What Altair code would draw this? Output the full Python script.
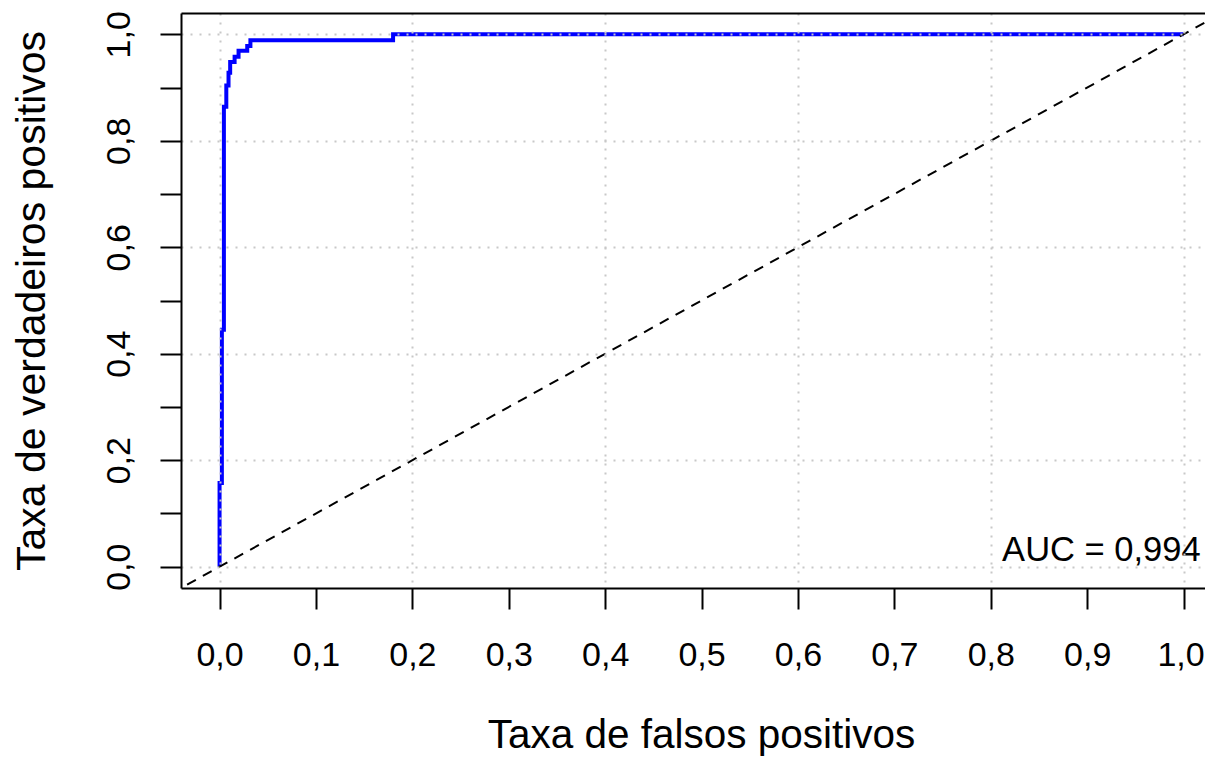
import altair as alt
import pandas as pd

# ROC curve vertices (false positive rate, true positive rate)
fpr = [0.0, 0.0024, 0.0045, 0.0070, 0.0093, 0.0110, 0.0156, 0.0197, 0.0287, 0.0320, 0.1800, 1.0]
tpr = [0.0, 0.157, 0.445, 0.864, 0.904, 0.928, 0.948, 0.958, 0.969, 0.978, 0.989, 1.0]

# chance diagonal (y = x), spanning the whole plot region
ref_x = [-0.05, 1.05]

tick_values = [0.0, 0.1, 0.2, 0.3, 0.4, 0.5, 0.6, 0.7, 0.8, 0.9, 1.0]

auc_text = ["AUC = 0,994"]
auc_x = [1.0177]
auc_y = [0.011]

x_title = "Taxa de falsos positivos"
y_title = "Taxa de verdadeiros positivos"

FONT = "Liberation Sans"
W, H = 1024, 575
X_DOMAIN = [-0.04, -0.04 + W / 964]
Y_DOMAIN = [-0.04, 1.04]

roc_df = pd.DataFrame({"fpr": fpr, "tpr": tpr})
ref_df = pd.DataFrame({"x": ref_x})
auc_df = pd.DataFrame({"label": auc_text, "x": auc_x, "y": auc_y})

even_tick = "round(datum.value*10) % 2 == 0"
fmt = "replace(format(datum.value, '.1f'), '.', ',')"

x_scale = alt.Scale(domain=X_DOMAIN, nice=False, zero=False)
y_scale = alt.Scale(domain=Y_DOMAIN, nice=False, zero=False)

grid_kw = dict(
    grid=True, gridDash=[2, 7], gridColor="#c8c8c8", gridWidth=2,
    gridOpacity={"condition": {"test": even_tick, "value": 1}, "value": 0},
)

x_axis = alt.Axis(
    values=tick_values, labelExpr=fmt,
    domain=True, domainColor="black", domainWidth=2,
    tickSize=21, tickWidth=2, tickColor="black",
    labelFont=FONT, labelFontSize=34, labelColor="black", labelPadding=29,
    labelOffset={"condition": {"test": "datum.value >= 0.99", "value": -3}, "value": 0},
    labelFlush=False, labelOverlap=False,
    title=x_title, titleFont=FONT, titleFontSize=40.5, titleFontWeight="normal",
    titleColor="black", titleX=520, titleY=159, titleAlign="center",
    titleBaseline="alphabetic", titleAngle=0, zindex=1, **grid_kw,
)
y_axis = alt.Axis(
    values=tick_values, labelExpr=f"{even_tick} ? {fmt} : ''",
    domain=True, domainColor="black", domainWidth=2,
    tickSize=21, tickWidth=2, tickColor="black",
    labelFont=FONT, labelFontSize=34, labelColor="black", labelPadding=31,
    labelAngle=270, labelAlign="center", labelBaseline="alphabetic",
    labelFlush=False, labelOverlap=False,
    title=y_title, titleFont=FONT, titleFontSize=41, titleFontWeight="normal",
    titleColor="black", titleX=-136.4, titleY=H / 2, titleAngle=270,
    titleAlign="center", titleBaseline="alphabetic", zindex=1, **grid_kw,
)
# top frame line of the plot box
top_axis = alt.Axis(
    orient="top", domain=True, domainColor="black", domainWidth=2,
    ticks=False, labels=False, grid=False, title=None, zindex=1,
)

roc = alt.Chart(roc_df).mark_line(
    color="#0000ff", strokeWidth=4, interpolate="step-before", clip=True
).encode(
    x=alt.X("fpr:Q", scale=x_scale, axis=x_axis),
    y=alt.Y("tpr:Q", scale=y_scale, axis=y_axis),
)

diag = alt.Chart(ref_df).transform_calculate(y="datum.x").mark_line(
    color="black", strokeWidth=2, strokeDash=[10, 8], clip=True
).encode(
    x=alt.X("x:Q", scale=x_scale, axis=top_axis),
    y=alt.Y("y:Q", scale=y_scale, axis=y_axis),
)

auc = alt.Chart(auc_df).mark_text(
    align="right", baseline="alphabetic", font=FONT, fontSize=34.5, color="black"
).encode(
    x=alt.X("x:Q", scale=x_scale, axis=None),
    y=alt.Y("y:Q", scale=y_scale, axis=y_axis),
    text="label:N",
)

chart = alt.layer(roc, diag, auc).resolve_axis(x="independent").properties(
    width=W, height=H,
    autosize=alt.AutoSizeParams(type="none"),
    padding={"left": 173, "top": 5, "right": 0, "bottom": 172},
    background="white",
).configure_view(stroke=None)

chart.save("out.html", embed_options={"renderer": "svg", "actions": False})
